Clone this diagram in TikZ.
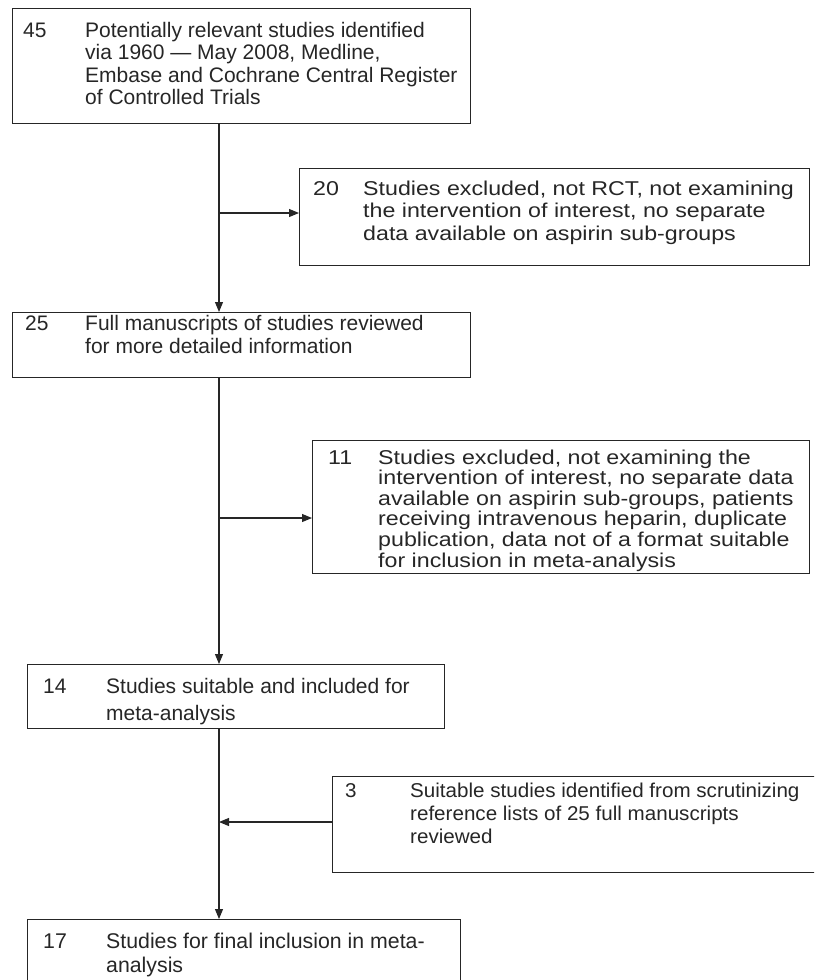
\documentclass[tikz,border=0pt]{standalone}
\usepackage{fontspec}
\setmainfont{Liberation Sans}
\newfontfamily\fA{Liberation Sans}
\newfontfamily\fB{Liberation Sans}[FakeStretch=1.16]
\newfontfamily\fC{Liberation Sans}[FakeStretch=1.03]
\usetikzlibrary{arrows.meta}
\definecolor{ink}{gray}{0.15}
\tikzset{
  box/.style={draw=ink, line width=1.15pt, rectangle, inner sep=0pt, anchor=north west},
  txt/.style={anchor=base west, inner sep=0pt, text=ink},
  link/.style={draw=ink, line width=1.05pt},
  arr/.style={link, -{Triangle[length=10pt,width=8pt]}},
}
\begin{document}
\begin{tikzpicture}[x=1pt,y=-1pt]
\useasboundingbox (0,0) rectangle (814,980);
\clip (0,0) rectangle (814,980);
% boxes
\node[box, minimum width=458pt, minimum height=115pt] (b45) at (12,8) {};
\node[box, minimum width=510pt, minimum height=97pt] (b20) at (299,168) {};
\node[box, minimum width=458pt, minimum height=65pt] (b25) at (12,312) {};
\node[box, minimum width=497pt, minimum height=133pt] (b11) at (312,440) {};
\node[box, minimum width=417pt, minimum height=64pt] (b14) at (27,664) {};
\node[box, minimum width=520pt, minimum height=96pt] (b3) at (332,776) {};
\node[box, minimum width=433pt, minimum height=90pt] (b17) at (27,919) {};
% texts
\node[txt, font=\fA\fontsize{21}{22.6}\selectfont] (n45) at (23,37) {45};
\node[txt, font=\fA\fontsize{21}{22.6}\selectfont] (t45) at (85,37) {\parbox[t]{400pt}{\raggedright Potentially relevant studies identified\\via 1960 — May 2008, Medline,\\Embase and Cochrane Central Register\\of Controlled Trials}};
\node[txt, font=\fB\fontsize{20}{22.6}\selectfont] (n20) at (313,195) {20};
\node[txt, font=\fB\fontsize{20}{22.6}\selectfont] (t20) at (363,195) {\parbox[t]{440pt}{\raggedright Studies excluded, not RCT, not examining\\the intervention of interest, no separate\\data available on aspirin sub-groups}};
\node[txt, font=\fA\fontsize{21}{23.5}\selectfont] (n25) at (25,330) {25};
\node[txt, font=\fA\fontsize{21}{23.5}\selectfont] (t25) at (85,330) {\parbox[t]{400pt}{\raggedright Full manuscripts of studies reviewed\\for more detailed information}};
\node[txt, font=\fB\fontsize{20}{20.6}\selectfont] (n11) at (328,464) {11};
\node[txt, font=\fB\fontsize{20}{20.6}\selectfont] (t11) at (378,464) {\parbox[t]{430pt}{\raggedright Studies excluded, not examining the\\intervention of interest, no separate data\\available on aspirin sub-groups, patients\\receiving intravenous heparin, duplicate\\publication, data not of a format suitable\\for inclusion in meta-analysis}};
\node[txt, font=\fA\fontsize{21}{27}\selectfont] (n14) at (43,693) {14};
\node[txt, font=\fA\fontsize{21}{27}\selectfont] (t14) at (106,693) {\parbox[t]{330pt}{\raggedright Studies suitable and included for\\meta-analysis}};
\node[txt, font=\fC\fontsize{20}{23}\selectfont] (n3) at (345,797) {3};
\node[txt, font=\fC\fontsize{20}{23}\selectfont] (t3) at (410,797) {\parbox[t]{420pt}{\raggedright Suitable studies identified from scrutinizing\\reference lists of 25 full manuscripts\\reviewed}};
\node[txt, font=\fA\fontsize{21.3}{24}\selectfont] (n17) at (43,948) {17};
\node[txt, font=\fA\fontsize{21.3}{24}\selectfont] (t17) at (106,948) {\parbox[t]{340pt}{\raggedright Studies for final inclusion in meta-\\analysis}};
% connectors
\coordinate (spine) at (219,0);
\coordinate (j1) at (219,213);
\coordinate (j2) at (219,518);
\coordinate (j3) at (219,822);
\draw[arr] (b45.south -| spine) -- (b25.north -| spine);
\draw[arr] (j1) -- (j1 -| b20.west);
\draw[arr] (b25.south -| spine) -- (b14.north -| spine);
\draw[arr] (j2) -- (j2 -| b11.west);
\draw[arr] (b14.south -| spine) -- (b17.north -| spine);
\draw[arr] (j3 -| b3.west) -- (j3);
\end{tikzpicture}
\end{document}
